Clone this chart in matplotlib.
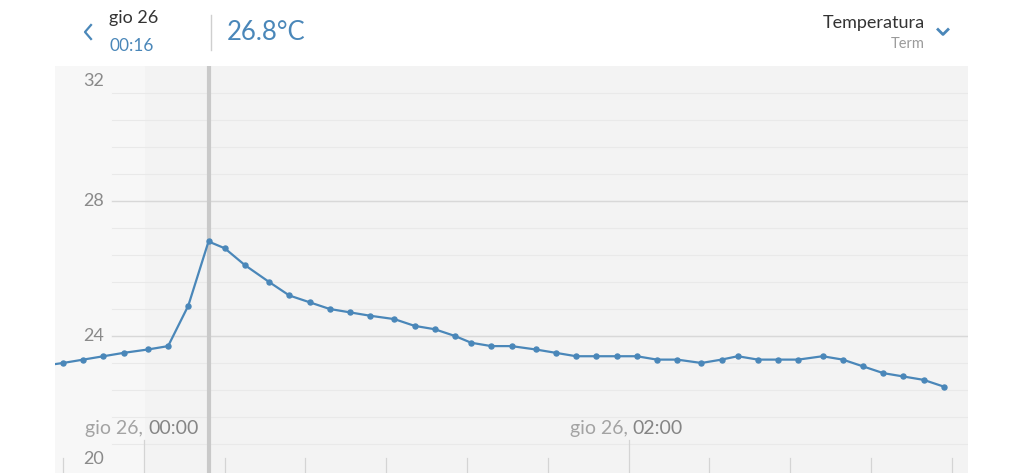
import numpy as np
import matplotlib
matplotlib.use("Agg")
import matplotlib.pyplot as plt

plt.rcParams['font.family'] = ['Lato', 'DejaVu Sans']

# --------------------------------------------------
# data (minutes after gio 26, 00:00 ; temperature in C)
# --------------------------------------------------
minutes = [-26, -20, -15, -10, -5, 1, 6, 11, 16, 20, 25, 31, 36, 41, 46, 51,
           56, 62, 67, 72, 77, 81, 86, 91, 97, 102, 107, 112, 117, 122, 127,
           132, 138, 143, 147, 152, 157, 162, 168, 173, 178, 183, 188, 193, 198]
temp = [23.1, 23.2, 23.3, 23.4, 23.5, 23.6, 23.7, 24.9, 26.8, 26.6, 26.1, 25.6,
        25.2, 25.0, 24.8, 24.7, 24.6, 24.5, 24.3, 24.2, 24.0, 23.8, 23.7, 23.7,
        23.6, 23.5, 23.4, 23.4, 23.4, 23.4, 23.3, 23.3, 23.2, 23.3, 23.4, 23.3,
        23.3, 23.3, 23.4, 23.3, 23.1, 22.9, 22.8, 22.7, 22.5]
cursor_min = 16
cursor_temp = 26.8
ytick_vals = [20, 24, 28, 32]
x_ticks = [-20, 0, 20, 40, 60, 80, 100, 120, 140, 160, 180, 200]
x_labels = {0: "00:00", 120: "02:00"}
day_label = "gio 26,"

# --------------------------------------------------
# figure
# --------------------------------------------------
fig = plt.figure(figsize=(10.24, 4.73), dpi=100)
fig.patch.set_facecolor('white')
ax = fig.add_axes([55/1024, 0, (968-55)/1024, (473-66)/473])
ax.set_facecolor('#f3f3f3')
ax.set_xlim(-22, 204)
ax.set_ylim(19.94, 32)
for s in ax.spines.values():
    s.set_visible(False)
ax.set_xticks([])
ax.set_yticks([])

# lighter band before midnight
ax.axvspan(-22, 0, color='#f7f7f7', zorder=0)

# grid lines
grid_start = -8
for v in np.arange(20.8, 32, 0.8):
    ax.plot([grid_start, 204], [v, v], color='#e9e9e9', lw=0.8, zorder=1)
for v in [24, 28]:
    ax.plot([grid_start, 204], [v, v], color='#d8d8d8', lw=1.0, zorder=1)

# bottom ticks
for t in x_ticks:
    top = 20.92 if t in x_labels else 20.39
    ax.plot([t, t], [19.94, top], color='#d4d4d4', lw=0.9, zorder=1)

# y labels
for v in ytick_vals:
    yv = v
    if v == 32:
        yv = 31.55
    elif v == 20:
        yv = 20.35
    ax.text(-12.4, yv, str(v), ha='center', va='center', fontsize=13,
            color='#8a8a8a', zorder=3)

# x labels
for t, lab in x_labels.items():
    ax.text(t - 0.3, 21.1, day_label, ha='right', va='baseline', fontsize=14,
            color='#a3a3a3', zorder=3)
    ax.text(t + 1.0, 21.1, lab, ha='left', va='baseline', fontsize=14,
            color='#858585', zorder=3)

# cursor
ax.axvline(cursor_min, color='#c9c9c9', lw=3, zorder=2)

# data line
ax.plot(minutes, temp, color='#4a87b9', lw=1.6, marker='o', ms=3.6,
        zorder=4, clip_on=True)

# --------------------------------------------------
# header
# --------------------------------------------------
H = 473
def fy(py):
    return 1 - py / H
def fx(px):
    return px / 1024

# back chevron
fig.add_artist(plt.Line2D([fx(91), fx(85), fx(91)], [fy(25), fy(32), fy(39)],
                          color='#4a87b9', lw=1.6))
fig.text(fx(109), fy(18), "gio 26", fontsize=13, color='#333333',
         ha='left', va='center')
fig.text(fx(109), fy(46), "00:16", fontsize=12.5, color='#4a87b9',
         ha='left', va='center')
fig.add_artist(plt.Line2D([fx(211), fx(211)], [fy(15), fy(50)],
                          color='#cfcfcf', lw=1))
fig.text(fx(227), fy(32), f"{cursor_temp}°C", fontsize=18.5, color='#4a87b9',
         ha='left', va='center')
fig.text(fx(925), fy(23), "Temperatura", fontsize=13, color='#333333',
         ha='right', va='center')
fig.text(fx(925), fy(44), "Term", fontsize=10.5, color='#9a9a9a',
         ha='right', va='center')
fig.add_artist(plt.Line2D([fx(938), fx(943), fx(948)], [fy(29.5), fy(34.5), fy(29.5)],
                          color='#4a87b9', lw=2))

fig.savefig("out.png", dpi=100, facecolor='white')
